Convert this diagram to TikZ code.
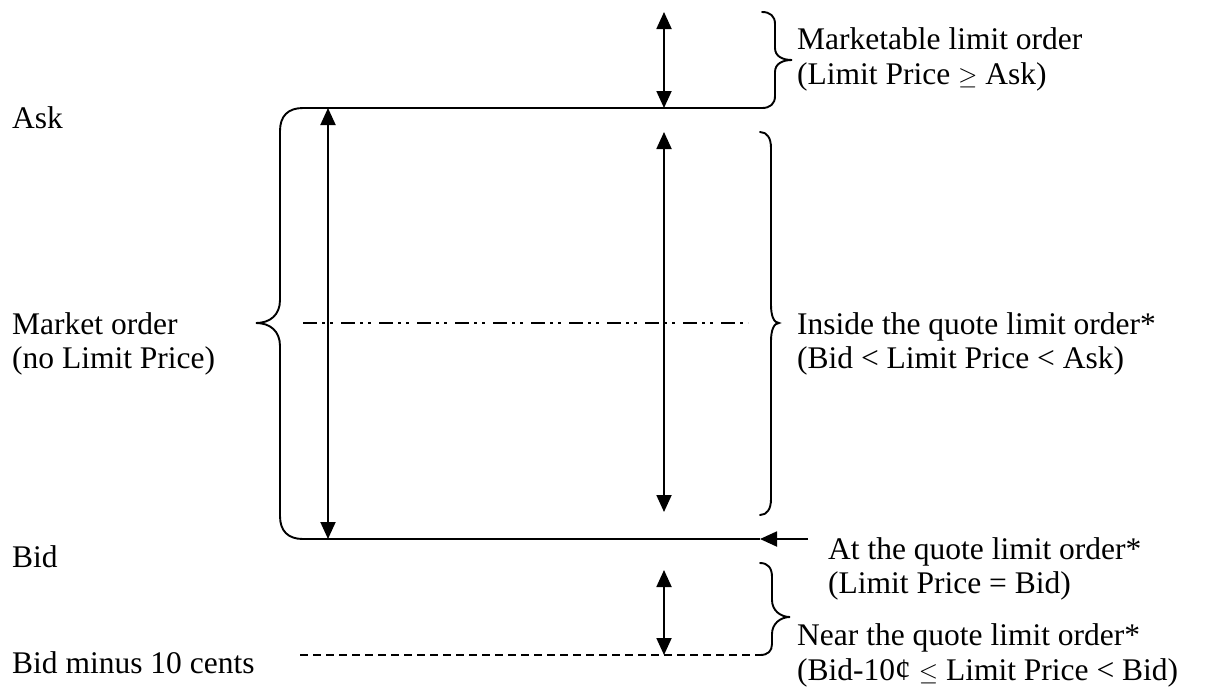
\documentclass[tikz,border=0pt]{standalone}
\usepackage{fontspec}
\setmainfont{Liberation Serif}
\usetikzlibrary{arrows.meta}
\begin{document}
\begin{tikzpicture}[x=1pt,y=-1pt,
  lbl/.style={anchor=base west,inner sep=0pt,font=\fontsize{31.5}{35}\selectfont},
  ln/.style={line width=1.9pt},
  dbl/.style={line width=1.9pt,{Triangle[length=17pt,width=15pt]}-{Triangle[length=17pt,width=15pt]}},
  sgl/.style={line width=1.9pt,-{Triangle[length=17pt,width=15pt]}},
  brc/.style={line width=1.9pt,line cap=round},
  dashdot/.style={line width=1.9pt,dash pattern=on 14pt off 5pt on 3pt off 5pt on 3pt off 8pt},
  dsh/.style={line width=1.5pt,dash pattern=on 8pt off 5pt}]
\useasboundingbox[fill=white] (0,0) rectangle (1228,694);

% left labels
\node[lbl] (ask) at (12,128) {Ask};
\node[lbl] (mkt1) at (12,334) {Market order};
\node[lbl] (mkt2) at (12,368) {(no Limit Price)};
\node[lbl] (bid) at (12,567) {Bid};
\node[lbl] (bid10) at (12,673) {Bid minus 10 cents};

% right labels
\node[lbl] (mlo1) at (797,49) {Marketable limit order};
\node[lbl] (mlo2) at (797,84) {(Limit Price $\geq$ Ask)};
\node[lbl] (in1) at (797,334) {Inside the quote limit order*};
\node[lbl] (in2) at (797,368) {(Bid < Limit Price < Ask)};
\node[lbl] (at1) at (828,559) {At the quote limit order*};
\node[lbl] (at2) at (828,593) {(Limit Price = Bid)};
\node[lbl] (nr1) at (797,645) {Near the quote limit order*};
\node[lbl] (nr2) at (797,680) {(Bid-10¢ $\leq$ Limit Price < Bid)};

% coordinates
\coordinate (askL) at (303,108);
\coordinate (askR) at (762,108);
\coordinate (bidL) at (303,539);
\coordinate (bidM) at (760,539);
\coordinate (bidR) at (808,539);
\coordinate (ddL) at (303,323);
\coordinate (ddR) at (748,323);
\coordinate (dsL) at (300,655);
\coordinate (dsR) at (762,655);
\coordinate (la1) at (328,108);
\coordinate (la2) at (328,539);
\coordinate (ta1) at (664,12);
\coordinate (ta2) at (664,108);
\coordinate (ma1) at (664,132);
\coordinate (ma2) at (664,512);
\coordinate (ba1) at (664,570);
\coordinate (ba2) at (664,655);

% price lines
\draw[ln] (askL) -- (askR);
\draw[ln] (bidL) -- (bidM);
\draw[sgl] (bidR) -- (bidM);
\draw[dashdot] (ddL) -- (ddR);
\draw[dsh] (dsL) -- (dsR);

% double arrows
\draw[dbl] (la1) -- (la2);
\draw[dbl] (ta1) -- (ta2);
\draw[dbl] (ma1) -- (ma2);
\draw[dbl] (ba1) -- (ba2);

% left brace
\draw[brc] (askL) .. controls (288,108) and (280,116) .. (280,131) -- (280,300)
  .. controls (280,315) and (270,323) .. (256,323)
  .. controls (270,323) and (280,331) .. (280,346) -- (280,516)
  .. controls (280,531) and (288,539) .. (bidL);

% top right brace
\draw[brc] (762,12) .. controls (770,12) and (775,16) .. (775,24) -- (775,48)
  .. controls (775,56) and (782,60) .. (792,60)
  .. controls (782,60) and (775,64) .. (775,72) -- (775,96)
  .. controls (775,104) and (770,108) .. (askR);

% inside brace
\draw[brc] (760,132) .. controls (767,132) and (771,138) .. (771,148) -- (771,305)
  .. controls (771,316) and (774,323) .. (779,323)
  .. controls (774,323) and (771,330) .. (771,341) -- (771,499)
  .. controls (771,509) and (767,515) .. (760,515);

% bottom brace
\draw[brc] (760,563) .. controls (768,563) and (772,568) .. (772,577) -- (772,600)
  .. controls (772,610) and (780,617) .. (790,617)
  .. controls (780,617) and (772,624) .. (772,634) -- (772,644)
  .. controls (772,651) and (768,655) .. (760,655);
\end{tikzpicture}
\end{document}
